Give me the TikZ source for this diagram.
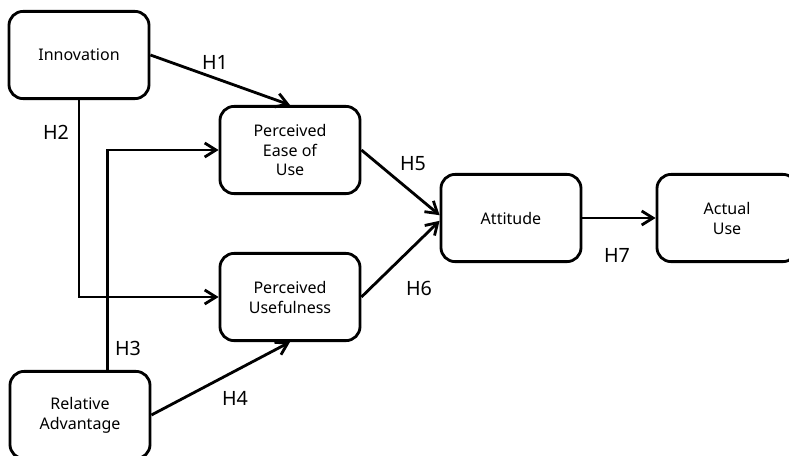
\documentclass[tikz,border=0pt]{standalone}
\usepackage{fontspec}
\setmainfont{Noto Sans}
\usetikzlibrary{arrows.meta}

\begin{document}
\begin{tikzpicture}[x=0.025cm, y=-0.025cm]
\tikzset{boite/.style={draw, line width=2pt, rounded corners=10pt, minimum width=3.5cm, minimum height=2.18cm, align=center, font=\fontsize{11.4}{14.2}\selectfont},
fleche/.style={line width=2pt, -{Straight Barb[length=8pt, width=10pt]}},
hyp/.style={font=\fontsize{14}{16}\selectfont}}
\useasboundingbox (0, 0) rectangle (789, 455);
\clip (0, 0) rectangle (789, 455);
\node[boite] (inno) at (79, 55) {Innovation};
\node[boite] (peu) at (290, 150) {Perceived\\Ease of\\Use};
\node[boite] (pu) at (290, 297) {Perceived\\Usefulness};
\node[boite] (ra) at (80, 415) {Relative\\Advantage};
\node[boite] (att) at (511, 218) {Attitude};
\node[boite] (use) at (727, 218) {Actual\\Use};
\draw[fleche] (inno.east) -- (peu.north);
\draw[fleche] (inno.south) |- (pu.west);
\draw[fleche] ([xshift=0.68cm]ra.north) |- (peu.west);
\draw[fleche] (ra.east) -- (pu.south);
\draw[fleche] (peu.east) -- ([yshift=2pt]att.west);
\draw[fleche] (pu.east) -- ([yshift=-2pt]att.west);
\draw[fleche] (att.east) -- (use.west);
\node[hyp] (h1) at (215, 62) {H1};
\node[hyp] (h2) at (56, 132) {H2};
\node[hyp] (h3) at (128, 348) {H3};
\node[hyp] (h4) at (235, 398) {H4};
\node[hyp] (h5) at (413, 164) {H5};
\node[hyp] (h6) at (419, 288) {H6};
\node[hyp] (h7) at (617, 255) {H7};
\end{tikzpicture}
\end{document}
